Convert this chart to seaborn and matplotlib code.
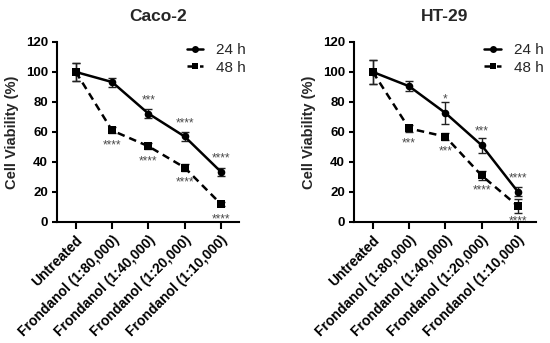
import matplotlib
matplotlib.use("Agg")
import matplotlib.pyplot as plt
import seaborn as sns
import pandas as pd
import numpy as np

categories = ["Untreated", "Frondanol (1:80,000)", "Frondanol (1:40,000)",
              "Frondanol (1:20,000)", "Frondanol (1:10,000)"]
groups = ["24 h", "48 h"]

caco_24 = [100, 93.3, 72.3, 57.0, 33.5]
caco_24_err = [6.0, 3.0, 2.8, 2.8, 2.8]
caco_48 = [100, 61.0, 50.5, 36.3, 12.0]
caco_48_err = [6.0, 2.0, 2.0, 2.3, 1.5]
caco_24_sig = ["", "", "***", "****", "****"]
caco_48_sig = ["", "****", "****", "****", "****"]

ht_24 = [100, 90.5, 72.7, 51.2, 20.2]
ht_24_err = [8.0, 3.5, 7.5, 5.0, 3.0]
ht_48 = [100, 62.4, 56.9, 31.0, 10.6]
ht_48_err = [8.0, 2.5, 2.5, 3.0, 4.5]
ht_24_sig = ["", "", "*", "***", "****"]
ht_48_sig = ["", "***", "***", "****", "****"]

titles = ["Caco-2", "HT-29"]
yticks = [0, 20, 40, 60, 80, 100, 120]

sns.set_theme(style="ticks")
plt.rcParams["font.family"] = ["Liberation Sans", "DejaVu Sans"]

fig = plt.figure(figsize=(5.5, 3.43), dpi=100)
ax_pos = [[0.1036, 0.3528, 0.3309, 0.5248], [0.6436, 0.3528, 0.3309, 0.5248]]
title_x = [0.555, 0.5]
leg_anchor = [(1.035, 0.995), (1.04, 0.995)]

panels = [
    (caco_24, caco_24_err, caco_48, caco_48_err, caco_24_sig, caco_48_sig),
    (ht_24, ht_24_err, ht_48, ht_48_err, ht_24_sig, ht_48_sig),
]

for i, (m24, e24, m48, e48, s24, s48) in enumerate(panels):
    ax = fig.add_axes(ax_pos[i])
    df = pd.DataFrame({
        "pos": list(range(len(categories))) * 2,
        "value": m24 + m48,
        "err": e24 + e48,
        "group": [groups[0]] * len(categories) + [groups[1]] * len(categories),
    })
    sns.lineplot(data=df, x="pos", y="value", hue="group", style="group",
                 palette=["black", "black"], markers={"24 h": "o", "48 h": "s"},
                 dashes={"24 h": "", "48 h": (3, 2)}, markersize=5.5,
                 linewidth=1.8, markeredgewidth=0, ax=ax)
    for g in groups:
        sub = df[df.group == g]
        ax.errorbar(sub["pos"], sub["value"], yerr=sub["err"], fmt="none",
                    ecolor="#222222", elinewidth=1.0, capsize=3, capthick=1.0,
                    zorder=1)
    # significance stars
    for x, (v, e, s) in enumerate(zip(m24, e24, s24)):
        if s:
            ax.text(x, v + 9, s, ha="center", va="center", fontsize=8.5,
                    color="#4a4a4a")
    for x, (v, e, s) in enumerate(zip(m48, e48, s48)):
        if s:
            ax.text(x, v - 10, s, ha="center", va="center", fontsize=8.5,
                    color="#4a4a4a")

    ax.set_xlim(-0.52, 4.5)
    ax.set_ylim(0, 120)
    ax.set_yticks(yticks)
    ax.set_yticklabels([str(t) for t in yticks], fontsize=9.5, fontweight="bold")
    ax.set_xticks(range(len(categories)))
    ax.set_xticklabels(categories, rotation=45, ha="right",
                       rotation_mode="anchor", fontsize=10, fontweight="bold")
    ax.set_xlabel("")
    ax.set_ylabel("Cell Viability (%)", fontsize=10.5, fontweight="bold", labelpad=5)
    ax.set_title(titles[i], fontsize=12.5, fontweight="bold", pad=15, x=title_x[i])
    for sp in ["top", "right"]:
        ax.spines[sp].set_visible(False)
    for sp in ["left", "bottom"]:
        ax.spines[sp].set_linewidth(1.5)
        ax.spines[sp].set_color("black")
    ax.tick_params(axis="y", length=3.5, width=1.5, pad=3, colors="black")
    ax.tick_params(axis="x", length=5, width=1.5, pad=3, colors="black")
    leg = ax.legend(loc="upper right", bbox_to_anchor=leg_anchor[i], frameon=False,
                    fontsize=11, handlelength=1.1, handletextpad=0.8,
                    labelspacing=0.25, borderaxespad=0, borderpad=0)
    for h in leg.legend_handles:
        h.set_markersize(5)

fig.savefig("out.png", dpi=100)
